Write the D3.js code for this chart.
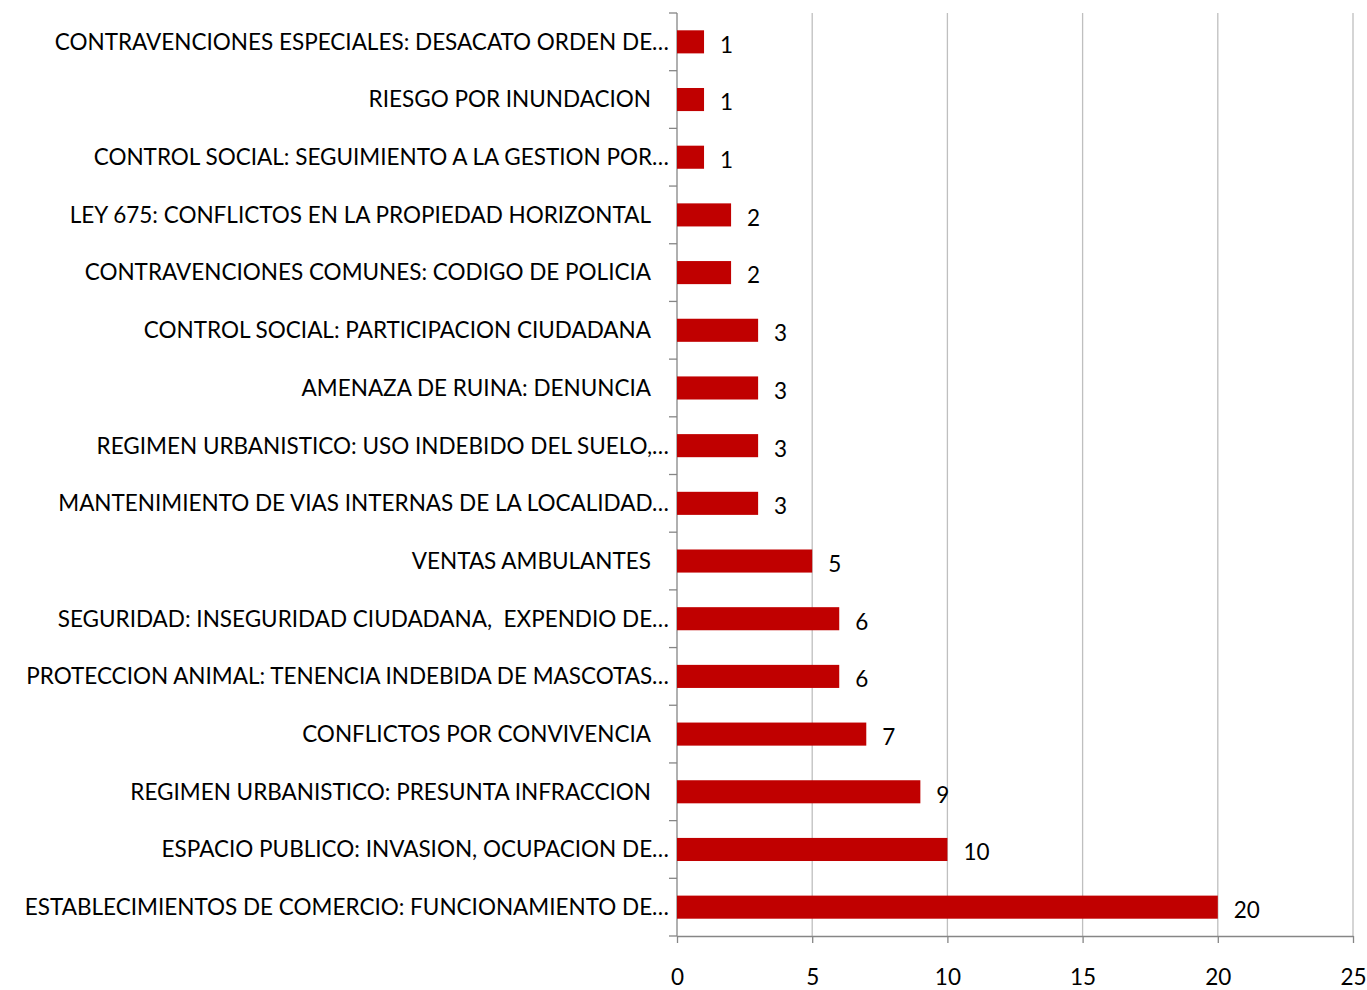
<!DOCTYPE html>
<html>
<head>
<meta charset="utf-8">
<script src="https://cdn.jsdelivr.net/npm/d3@7"></script>
<style>
  body { margin: 0; background: #fff; }
  text { font-family: Lato, "Open Sans", sans-serif; fill: #000; }
</style>
</head>
<body>
<div id="chart"></div>
<script>
// categories top to bottom, as in the picture
var categories = [
  "CONTRAVENCIONES ESPECIALES: DESACATO ORDEN DE…",
  "RIESGO POR INUNDACION",
  "CONTROL SOCIAL: SEGUIMIENTO A LA GESTION POR…",
  "LEY 675: CONFLICTOS EN LA PROPIEDAD HORIZONTAL",
  "CONTRAVENCIONES COMUNES: CODIGO DE POLICIA",
  "CONTROL SOCIAL: PARTICIPACION CIUDADANA",
  "AMENAZA DE RUINA: DENUNCIA",
  "REGIMEN URBANISTICO: USO INDEBIDO DEL SUELO,…",
  "MANTENIMIENTO DE VIAS INTERNAS DE LA LOCALIDAD…",
  "VENTAS AMBULANTES",
  "SEGURIDAD: INSEGURIDAD CIUDADANA,  EXPENDIO DE…",
  "PROTECCION ANIMAL: TENENCIA INDEBIDA DE MASCOTAS…",
  "CONFLICTOS POR CONVIVENCIA",
  "REGIMEN URBANISTICO: PRESUNTA INFRACCION",
  "ESPACIO PUBLICO: INVASION, OCUPACION DE…",
  "ESTABLECIMIENTOS DE COMERCIO: FUNCIONAMIENTO DE…"
];
var values = [1, 1, 1, 2, 2, 3, 3, 3, 3, 5, 6, 6, 7, 9, 10, 20];
var xTicks = [0, 5, 10, 15, 20, 25];

var data = categories.map(function(c, i) { return {name: c, value: values[i]}; });

// set the dimensions and margins of the graph
var margin = {top: 13, right: 14, bottom: 54, left: 677},
    width = 1367 - margin.left - margin.right,
    height = 990 - margin.top - margin.bottom;

var svg = d3.select("#chart")
  .append("svg")
    .attr("width", 1367)
    .attr("height", 990)
  .append("g")
    .attr("transform", "translate(" + margin.left + "," + margin.top + ")");

var x = d3.scaleLinear()
  .domain([0, 25])
  .range([0, width]);

var y = d3.scaleBand()
  .domain(categories)
  .range([0, height])
  .paddingInner(0.6)
  .paddingOuter(0.3);

// vertical gridlines
svg.selectAll("line.grid")
  .data(xTicks.slice(1))
  .enter()
  .append("line")
    .attr("class", "grid")
    .attr("x1", function(d) { return x(d); })
    .attr("x2", function(d) { return x(d); })
    .attr("y1", 0)
    .attr("y2", height)
    .attr("stroke", "#bfbfbf")
    .attr("stroke-width", 1.3);

// X axis
var xAxis = svg.append("g")
  .attr("transform", "translate(0," + height + ")")
  .call(d3.axisBottom(x).tickValues(xTicks).tickSizeInner(7).tickSizeOuter(0).tickPadding(26));
xAxis.select(".domain").attr("stroke", "#868686").attr("stroke-width", 1.3);
xAxis.selectAll(".tick line").attr("stroke", "#868686").attr("stroke-width", 1.3);
xAxis.selectAll("text")
  .style("font-size", "22.5px")
  .attr("fill", "#000");

// Y axis: boundary ticks between categories
svg.append("line")
  .attr("x1", 0).attr("x2", 0)
  .attr("y1", 0).attr("y2", height)
  .attr("stroke", "#868686").attr("stroke-width", 1.3);
svg.selectAll("line.ytick")
  .data(d3.range(categories.length + 1))
  .enter()
  .append("line")
    .attr("class", "ytick")
    .attr("x1", -8).attr("x2", 0)
    .attr("y1", function(i) { return i * height / categories.length; })
    .attr("y2", function(i) { return i * height / categories.length; })
    .attr("stroke", "#868686").attr("stroke-width", 1.3);

// category labels
svg.selectAll("text.cat")
  .data(data)
  .enter()
  .append("text")
    .attr("class", "cat")
    .attr("text-anchor", "end")
    .attr("x", function(d) { return /…$/.test(d.name) ? -8 : -26; })
    .attr("y", function(d) { return y(d.name) + y.bandwidth() / 2; })
    .attr("dy", "0.35em")
    .style("font-size", "22.5px")
    .style("white-space", "pre")
    .text(function(d) { return d.name; });

// Bars
svg.selectAll("rect.bar")
  .data(data)
  .enter()
  .append("rect")
    .attr("class", "bar")
    .attr("x", x(0))
    .attr("y", function(d) { return y(d.name); })
    .attr("width", function(d) { return x(d.value) - x(0); })
    .attr("height", y.bandwidth())
    .attr("fill", "#c00000");

// value labels
svg.selectAll("text.val")
  .data(data)
  .enter()
  .append("text")
    .attr("class", "val")
    .attr("x", function(d) { return x(d.value) + 16; })
    .attr("y", function(d) { return y(d.name) + y.bandwidth() / 2 + 3; })
    .attr("dy", "0.35em")
    .style("font-size", "22.5px")
    .text(function(d) { return d.value; });
</script>
</body>
</html>
